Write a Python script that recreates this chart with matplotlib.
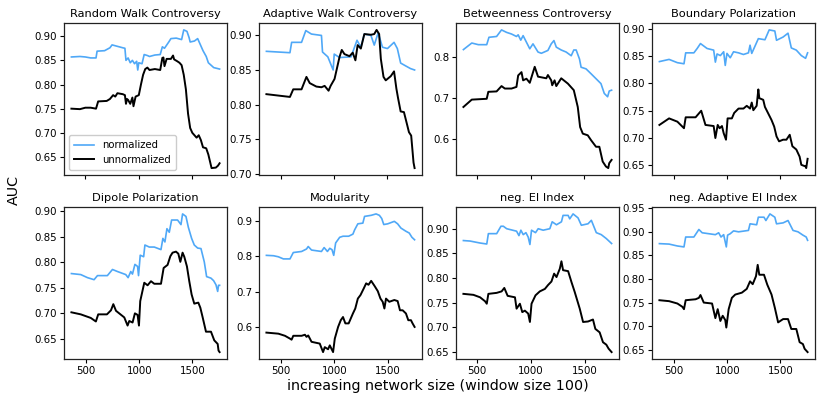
import matplotlib
matplotlib.use("Agg")
import matplotlib.pyplot as plt

BLUE = "#4fa8f7"

titles = ["Random Walk Controversy", "Adaptive Walk Controversy", "Betweenness Controversy",
          "Boundary Polarization", "Dipole Polarization", "Modularity", "neg. EI Index",
          "neg. Adaptive EI Index"]

# ---- Random Walk Controversy
rw_norm_x = [370, 450, 500, 550, 600, 610, 680, 730, 750, 800, 850, 870, 880, 900, 920, 940, 960, 980, 990, 1000,
             1030, 1050, 1080, 1100, 1150, 1200, 1220, 1240, 1280, 1300, 1350, 1400, 1420, 1450, 1470, 1480, 1520,
             1550, 1580, 1600, 1630, 1650, 1700, 1755]
rw_norm_y = [0.857, 0.858, 0.857, 0.855, 0.855, 0.869, 0.870, 0.876, 0.882, 0.879, 0.876, 0.875, 0.850, 0.855,
             0.845, 0.850, 0.843, 0.848, 0.830, 0.845, 0.843, 0.862, 0.860, 0.858, 0.861, 0.862, 0.878, 0.875,
             0.888, 0.895, 0.896, 0.893, 0.913, 0.910, 0.897, 0.888, 0.890, 0.895, 0.880, 0.870, 0.858, 0.845,
             0.835, 0.832]
rw_unnorm_x = [370, 450, 500, 550, 600, 620, 700, 730, 760, 780, 800, 850, 870, 880, 890, 900, 920, 940, 950, 970,
               1000, 1020, 1040, 1060, 1080, 1100, 1150, 1200, 1220, 1230, 1240, 1260, 1300, 1320, 1330, 1360, 1380,
               1400, 1420, 1440, 1460, 1480, 1500, 1520, 1540, 1560, 1580, 1600, 1630, 1650, 1680, 1720, 1740, 1755]
rw_unnorm_y = [0.750, 0.749, 0.752, 0.752, 0.750, 0.765, 0.766, 0.770, 0.778, 0.775, 0.782, 0.780, 0.778, 0.760,
               0.770, 0.768, 0.760, 0.773, 0.755, 0.775, 0.778, 0.800, 0.820, 0.832, 0.835, 0.830, 0.832, 0.830,
               0.855, 0.856, 0.838, 0.853, 0.853, 0.860, 0.852, 0.848, 0.845, 0.840, 0.820, 0.790, 0.740, 0.710,
               0.700, 0.695, 0.690, 0.695, 0.685, 0.670, 0.668, 0.655, 0.627, 0.628, 0.632, 0.637]

# ---- Adaptive Walk Controversy
aw_norm_x = [363, 584, 600, 693, 733, 786, 880, 890, 940, 990, 1000, 1050, 1158, 1214, 1250, 1283, 1345, 1376,
             1413, 1453, 1500, 1562, 1593, 1624, 1670, 1717, 1755]
aw_norm_y = [0.877, 0.875, 0.890, 0.890, 0.907, 0.902, 0.900, 0.876, 0.869, 0.850, 0.873, 0.868, 0.869, 0.893,
             0.883, 0.902, 0.900, 0.886, 0.904, 0.883, 0.881, 0.890, 0.881, 0.860, 0.856, 0.852, 0.850]
aw_unnorm_x = [363, 584, 615, 693, 739, 770, 832, 880, 910, 947, 966, 1003, 1050, 1071, 1096, 1143, 1174, 1199,
               1220, 1250, 1283, 1345, 1376, 1398, 1422, 1438, 1463, 1484, 1531, 1562, 1584, 1600, 1624, 1655,
               1686, 1702, 1723, 1745, 1755]
aw_unnorm_y = [0.815, 0.811, 0.822, 0.822, 0.840, 0.831, 0.826, 0.825, 0.827, 0.820, 0.827, 0.837, 0.869, 0.879,
               0.873, 0.870, 0.875, 0.864, 0.886, 0.881, 0.902, 0.901, 0.902, 0.908, 0.902, 0.866, 0.840, 0.835,
               0.841, 0.848, 0.823, 0.809, 0.790, 0.789, 0.770, 0.760, 0.755, 0.716, 0.708]

# ---- Betweenness Controversy
bc_norm_x = [373, 451, 512, 590, 611, 682, 728, 775, 821, 867, 883, 907, 929, 960, 991, 1021, 1068, 1099, 1160,
             1191, 1216, 1238, 1284, 1330, 1377, 1401, 1423, 1454, 1469, 1515, 1562, 1608, 1654, 1685, 1716, 1731,
             1753]
bc_norm_y = [0.817, 0.833, 0.829, 0.829, 0.847, 0.849, 0.865, 0.859, 0.855, 0.849, 0.853, 0.840, 0.851, 0.835,
             0.819, 0.831, 0.811, 0.808, 0.815, 0.831, 0.839, 0.823, 0.816, 0.811, 0.802, 0.816, 0.816, 0.794,
             0.774, 0.770, 0.758, 0.746, 0.734, 0.710, 0.702, 0.716, 0.718]
bc_unnorm_x = [373, 451, 590, 605, 682, 728, 759, 821, 867, 883, 914, 929, 960, 991, 1037, 1068, 1145, 1160, 1191,
               1200, 1222, 1238, 1284, 1346, 1401, 1438, 1460, 1485, 1531, 1562, 1608, 1639, 1670, 1700, 1722,
               1731, 1753]
bc_unnorm_y = [0.677, 0.695, 0.697, 0.714, 0.715, 0.728, 0.722, 0.722, 0.726, 0.754, 0.762, 0.742, 0.746, 0.736,
               0.775, 0.751, 0.747, 0.755, 0.742, 0.730, 0.742, 0.728, 0.747, 0.734, 0.718, 0.677, 0.628, 0.612,
               0.608, 0.596, 0.580, 0.580, 0.544, 0.532, 0.528, 0.540, 0.548]

# ---- Boundary Polarization
bp_norm_x = [362, 453, 531, 593, 609, 686, 717, 748, 810, 872, 888, 904, 935, 966, 981, 997, 1028, 1059, 1106,
             1152, 1199, 1214, 1230, 1292, 1354, 1394, 1447, 1463, 1525, 1571, 1602, 1649, 1696, 1736, 1755]
bp_norm_y = [0.840, 0.844, 0.838, 0.836, 0.856, 0.856, 0.864, 0.873, 0.864, 0.861, 0.839, 0.854, 0.851, 0.858,
             0.833, 0.855, 0.847, 0.858, 0.856, 0.853, 0.856, 0.870, 0.855, 0.882, 0.880, 0.898, 0.896, 0.879,
             0.885, 0.892, 0.865, 0.861, 0.851, 0.846, 0.856]
bp_unnorm_x = [362, 453, 531, 593, 609, 702, 755, 795, 872, 888, 910, 928, 950, 966, 988, 1003, 1043, 1065, 1106,
               1152, 1183, 1214, 1230, 1245, 1276, 1292, 1301, 1338, 1354, 1385, 1416, 1441, 1463, 1487, 1525,
               1556, 1587, 1612, 1649, 1680, 1696, 1736, 1742, 1755]
bp_unnorm_y = [0.724, 0.736, 0.730, 0.718, 0.738, 0.738, 0.750, 0.724, 0.722, 0.700, 0.724, 0.718, 0.722, 0.709,
               0.697, 0.736, 0.736, 0.746, 0.754, 0.754, 0.759, 0.754, 0.765, 0.751, 0.759, 0.789, 0.773, 0.770,
               0.757, 0.745, 0.733, 0.721, 0.703, 0.694, 0.697, 0.697, 0.706, 0.685, 0.679, 0.666, 0.651, 0.648,
               0.645, 0.662]

# ---- Dipole Polarization
dp_norm_x = [362, 450, 513, 575, 607, 700, 748, 795, 873, 895, 920, 936, 959, 984, 993, 1009, 1041, 1053, 1094,
             1141, 1204, 1222, 1241, 1260, 1282, 1304, 1360, 1392, 1407, 1439, 1461, 1492, 1517, 1549, 1580, 1611,
             1633, 1674, 1699, 1721, 1737, 1745, 1755]
dp_norm_y = [0.778, 0.776, 0.770, 0.766, 0.774, 0.774, 0.786, 0.782, 0.776, 0.770, 0.782, 0.777, 0.796, 0.792,
             0.774, 0.814, 0.811, 0.834, 0.830, 0.830, 0.825, 0.847, 0.840, 0.866, 0.859, 0.883, 0.883, 0.874,
             0.895, 0.890, 0.869, 0.847, 0.834, 0.828, 0.827, 0.801, 0.772, 0.769, 0.764, 0.756, 0.743, 0.755,
             0.755]
dp_unnorm_x = [362, 450, 544, 592, 614, 696, 734, 756, 781, 859, 890, 906, 937, 959, 984, 997, 1009, 1047, 1078,
               1110, 1141, 1204, 1229, 1266, 1292, 1313, 1345, 1367, 1386, 1407, 1423, 1448, 1470, 1492, 1517,
               1555, 1574, 1596, 1627, 1674, 1705, 1737, 1745, 1755]
dp_unnorm_y = [0.702, 0.698, 0.691, 0.684, 0.698, 0.698, 0.706, 0.718, 0.705, 0.692, 0.676, 0.685, 0.682, 0.700,
               0.697, 0.676, 0.724, 0.760, 0.755, 0.763, 0.758, 0.758, 0.789, 0.795, 0.812, 0.819, 0.821, 0.817,
               0.801, 0.819, 0.811, 0.792, 0.763, 0.737, 0.719, 0.721, 0.711, 0.692, 0.664, 0.664, 0.647, 0.640,
               0.627, 0.624]

# ---- Modularity
mo_norm_x = [363, 429, 475, 522, 584, 615, 693, 739, 755, 786, 879, 904, 935, 957, 978, 994, 1012, 1050, 1081,
             1134, 1174, 1190, 1220, 1267, 1283, 1345, 1391, 1422, 1444, 1463, 1500, 1562, 1593, 1624, 1671, 1702,
             1727, 1752]
mo_norm_y = [0.802, 0.801, 0.798, 0.792, 0.792, 0.810, 0.813, 0.820, 0.827, 0.817, 0.813, 0.824, 0.813, 0.822,
             0.818, 0.802, 0.837, 0.853, 0.856, 0.856, 0.862, 0.874, 0.891, 0.893, 0.912, 0.915, 0.919, 0.915,
             0.906, 0.889, 0.891, 0.898, 0.891, 0.879, 0.870, 0.865, 0.853, 0.846]
mo_unnorm_x = [363, 475, 537, 584, 599, 615, 693, 724, 739, 755, 786, 863, 894, 910, 941, 957, 988, 1004, 1035,
               1060, 1081, 1103, 1134, 1174, 1196, 1220, 1245, 1276, 1298, 1320, 1345, 1376, 1407, 1432, 1453,
               1469, 1484, 1515, 1562, 1593, 1615, 1640, 1671, 1693, 1718, 1733, 1752]
mo_unnorm_y = [0.584, 0.581, 0.575, 0.567, 0.564, 0.575, 0.575, 0.578, 0.572, 0.576, 0.558, 0.553, 0.529, 0.543,
               0.537, 0.548, 0.529, 0.567, 0.600, 0.619, 0.628, 0.610, 0.610, 0.638, 0.652, 0.680, 0.690, 0.709,
               0.723, 0.719, 0.730, 0.716, 0.701, 0.680, 0.671, 0.652, 0.680, 0.671, 0.676, 0.673, 0.647, 0.647,
               0.638, 0.619, 0.619, 0.610, 0.600]

# ---- neg. EI Index
ei_norm_x = [373, 435, 528, 590, 605, 682, 722, 744, 775, 867, 889, 907, 929, 954, 975, 991, 1006, 1043, 1068,
             1114, 1176, 1198, 1238, 1284, 1299, 1346, 1361, 1392, 1438, 1469, 1531, 1562, 1608, 1654, 1701, 1750]
ei_norm_y = [0.876, 0.875, 0.871, 0.869, 0.890, 0.890, 0.905, 0.905, 0.900, 0.895, 0.886, 0.897, 0.888, 0.892,
             0.883, 0.868, 0.897, 0.892, 0.900, 0.897, 0.900, 0.914, 0.908, 0.914, 0.927, 0.927, 0.920, 0.930,
             0.922, 0.907, 0.910, 0.917, 0.892, 0.888, 0.880, 0.870]
ei_unnorm_x = [373, 466, 528, 574, 590, 605, 682, 728, 753, 784, 852, 867, 898, 920, 944, 975, 991, 1006, 1043,
               1083, 1130, 1160, 1191, 1216, 1238, 1269, 1284, 1299, 1346, 1377, 1407, 1454, 1485, 1531, 1577,
               1599, 1639, 1670, 1701, 1722, 1750]
ei_unnorm_y = [0.768, 0.766, 0.761, 0.753, 0.748, 0.768, 0.770, 0.773, 0.780, 0.764, 0.761, 0.738, 0.748, 0.731,
               0.734, 0.728, 0.711, 0.748, 0.765, 0.773, 0.778, 0.786, 0.793, 0.809, 0.802, 0.819, 0.834, 0.816,
               0.814, 0.792, 0.772, 0.738, 0.711, 0.712, 0.716, 0.697, 0.690, 0.670, 0.665, 0.657, 0.650]

# ---- neg. Adaptive EI Index
ae_norm_x = [362, 453, 531, 593, 609, 686, 733, 764, 826, 888, 919, 941, 966, 991, 1003, 1028, 1059, 1106, 1199,
             1214, 1276, 1292, 1345, 1363, 1401, 1447, 1463, 1525, 1571, 1618, 1665, 1711, 1742, 1755]
ae_norm_y = [0.875, 0.874, 0.870, 0.868, 0.889, 0.889, 0.905, 0.898, 0.896, 0.894, 0.898, 0.889, 0.894, 0.868,
             0.893, 0.896, 0.902, 0.900, 0.903, 0.917, 0.915, 0.931, 0.931, 0.924, 0.938, 0.931, 0.917, 0.919,
             0.924, 0.903, 0.900, 0.893, 0.889, 0.882]
ae_unnorm_x = [362, 453, 531, 578, 593, 609, 702, 733, 748, 779, 857, 888, 910, 935, 957, 981, 991, 1013, 1043,
               1075, 1137, 1183, 1214, 1239, 1270, 1286, 1301, 1345, 1376, 1416, 1447, 1478, 1525, 1571, 1602,
               1649, 1680, 1711, 1727, 1755]
ae_unnorm_y = [0.755, 0.753, 0.748, 0.741, 0.736, 0.755, 0.757, 0.760, 0.766, 0.750, 0.748, 0.717, 0.736, 0.711,
               0.722, 0.713, 0.697, 0.736, 0.760, 0.767, 0.771, 0.779, 0.795, 0.789, 0.806, 0.830, 0.809, 0.809,
               0.788, 0.767, 0.739, 0.708, 0.715, 0.715, 0.694, 0.694, 0.666, 0.662, 0.652, 0.645]

series = [
    (rw_norm_x, rw_norm_y, rw_unnorm_x, rw_unnorm_y),
    (aw_norm_x, aw_norm_y, aw_unnorm_x, aw_unnorm_y),
    (bc_norm_x, bc_norm_y, bc_unnorm_x, bc_unnorm_y),
    (bp_norm_x, bp_norm_y, bp_unnorm_x, bp_unnorm_y),
    (dp_norm_x, dp_norm_y, dp_unnorm_x, dp_unnorm_y),
    (mo_norm_x, mo_norm_y, mo_unnorm_x, mo_unnorm_y),
    (ei_norm_x, ei_norm_y, ei_unnorm_x, ei_unnorm_y),
    (ae_norm_x, ae_norm_y, ae_unnorm_x, ae_unnorm_y),
]

W, H = 831, 403
fig = plt.figure(figsize=(W / 100, H / 100), dpi=100)

lefts = [64, 259, 456, 652]
aw, ah = 163, 152
tops = [23, 207]

TICK_FS = 7.4
for i, (nx, ny, ux, uy) in enumerate(series):
    r, c = divmod(i, 4)
    ax = fig.add_axes([lefts[c] / W, 1 - (tops[r] + ah) / H, aw / W, ah / H])
    ax.plot(nx, ny, color=BLUE, lw=1.2, label="normalized")
    ax.plot(ux, uy, color="black", lw=1.4, label="unnormalized")
    ax.set_title(titles[i], fontsize=8.2, pad=4)
    ax.set_xticks([500, 1000, 1500])
    ax.tick_params(labelsize=TICK_FS, length=3, width=0.8, pad=2)
    if r == 0:
        ax.set_xticklabels([])
    for s in ax.spines.values():
        s.set_linewidth(0.9)
        s.set_color("#222222")
    if i == 0:
        ax.legend(loc="lower left", fontsize=7.3, handlelength=2.0, borderpad=0.5,
                  labelspacing=0.45, framealpha=1.0, edgecolor="#cccccc")

fig.text(14 / W, 1 - 190 / H, "AUC", rotation=90, fontsize=10.3, ha="center", va="center")
fig.text(438 / W, 1 - 386 / H, "increasing network size (window size 100)", fontsize=10.3,
         ha="center", va="center")

fig.savefig("out.png", dpi=100)
